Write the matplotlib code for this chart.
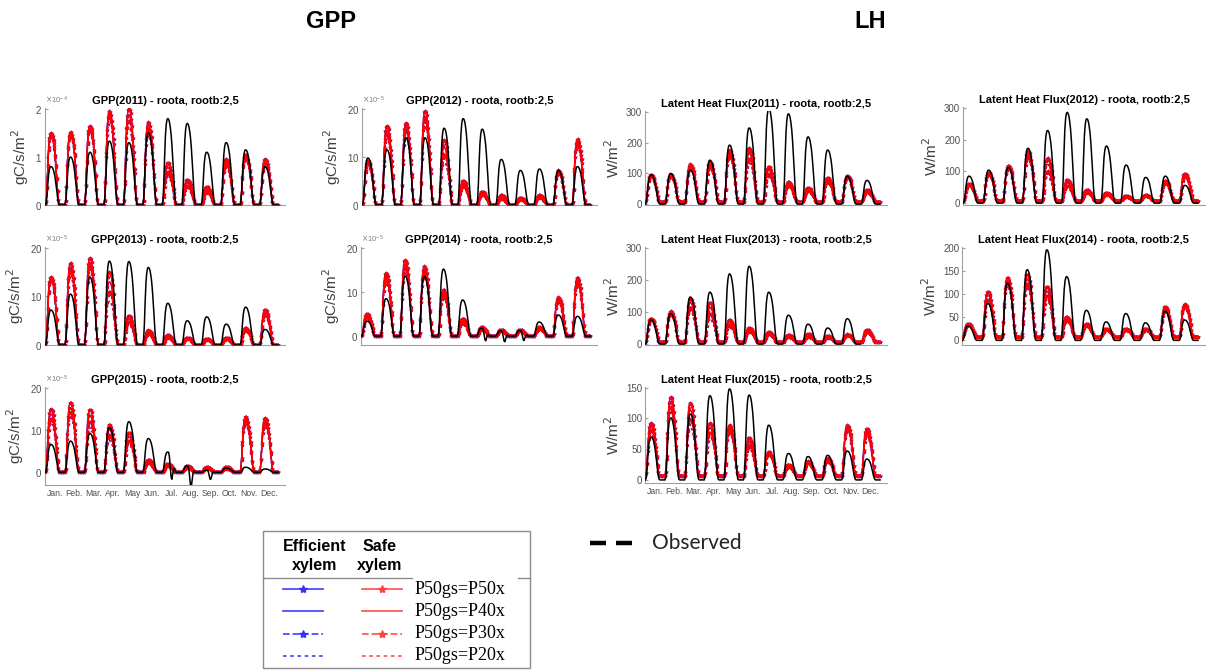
import numpy as np
import matplotlib
matplotlib.use('Agg')
import matplotlib.pyplot as plt
from matplotlib.ticker import ScalarFormatter
from matplotlib.patches import Rectangle

plt.rcParams['font.family'] = ['Liberation Sans', 'DejaVu Sans']

# ---------------- data ----------------
months = ['Jan.', 'Feb.', 'Mar.', 'Apr.', 'May', 'Jun.', 'Jul.', 'Aug.', 'Sep.', 'Oct.', 'Nov.', 'Dec.']
variants = ['P50gs=P50x', 'P50gs=P40x', 'P50gs=P30x', 'P50gs=P20x']

# mean diurnal cycle shape (24 hourly fractions of the monthly peak)
hour_shape = [0, 0.05, 0.25, 0.55, 0.8, 0.93, 0.99, 1.0, 0.99, 0.96, 0.9, 0.82,
              0.7, 0.55, 0.38, 0.2, 0.07, 0.01, 0, 0, 0, 0, 0, 0]
# shape of the negative midday dips seen in observed GPP
dip_shape = [0, 0, 0, 0, 0, 0, 0, 0, 0, 0.2, 0.6, 1.0,
             1.0, 0.6, 0.2, 0, 0, 0, 0, 0, 0, 0, 0, 0]

# GPP monthly peaks, in units of 1e-5 gC/s/m2
gpp2011_obs = [8, 10, 11, 13.3, 13, 15, 18, 17, 11, 13, 11.5, 8]
gpp2011_p50 = [15, 15.2, 16.5, 19.5, 20, 17.2, 8.8, 5.3, 3.8, 9.5, 10.5, 9.5]
gpp2011_p40 = [14.7, 15, 16.2, 18.8, 18.8, 16.5, 7.8, 4.6, 3.2, 9.0, 10.2, 9.2]
gpp2011_p30 = [14.3, 14.6, 15.8, 18.2, 17.5, 15.5, 6.8, 4.0, 2.7, 8.6, 9.8, 8.8]
gpp2011_p20 = [14, 14.2, 15.4, 17.6, 16.2, 14.5, 5.8, 3.5, 2.4, 8.2, 9.5, 8.5]

gpp2012_obs = [9.8, 11.5, 14, 14, 16, 18, 15.8, 9.5, 7.2, 7.5, 7.2, 8]
gpp2012_p50 = [9.2, 16.5, 17, 19.5, 13.5, 5.0, 2.8, 2.0, 1.5, 2.0, 7.2, 13.7]
gpp2012_p40 = [8.9, 15.6, 16.3, 18.5, 12, 4.5, 2.5, 1.6, 1.3, 1.8, 7.0, 13.2]
gpp2012_p30 = [8.6, 14.8, 15.6, 17.5, 10.5, 4.0, 2.2, 1.3, 1.1, 1.6, 6.8, 12.6]
gpp2012_p20 = [8.3, 14.0, 15.0, 16.5, 9.0, 3.5, 2.0, 1.0, 1.0, 1.5, 6.5, 12.0]

gpp2013_obs = [7.2, 10.5, 14, 17.3, 17.2, 16, 8.6, 5, 5.8, 4.3, 7.8, 3.2]
gpp2013_p50 = [14, 16.9, 17.9, 15, 6, 3.0, 2.0, 1.5, 1.3, 1.5, 3.5, 7.2]
gpp2013_p40 = [13.6, 16, 17, 13, 5.3, 2.7, 1.8, 1.4, 1.2, 1.3, 3.3, 6.8]
gpp2013_p30 = [13.3, 15, 16.2, 11, 4.7, 2.3, 1.6, 1.3, 1.1, 1.2, 3.0, 6.4]
gpp2013_p20 = [13, 14, 15.5, 9, 4, 2.0, 1.5, 1.2, 1.0, 1.0, 2.8, 6.0]

gpp2014_obs = [3.4, 8.5, 13.6, 13.5, 15.2, 8.2, 1.8, 1.2, 1.3, 3.2, 4.8, 4.5]
gpp2014_dip = [0, 0, 0, 0, 0, 0, -2.3, -2.1, -1.9, 0, 0, 0]
gpp2014_p50 = [5, 14.2, 17.2, 15.8, 10.5, 4, 2, 1.5, 1.5, 2, 8.8, 13.2]
gpp2014_p40 = [4.7, 13.5, 16.3, 15, 9.8, 3.5, 1.7, 1.3, 1.3, 1.8, 8.4, 12.6]
gpp2014_p30 = [4.3, 12.7, 15.4, 14.2, 9.1, 3, 1.5, 1.1, 1.1, 1.6, 8, 12]
gpp2014_p20 = [4, 12, 14.5, 13.5, 8.5, 2.5, 1.2, 1.0, 1.0, 1.5, 7.5, 11.5]

gpp2015_obs = [6.6, 7.4, 9.2, 10.6, 12, 8, 4.8, 1.5, 0.5, 1.0, 1.2, 0.8]
gpp2015_dip = [0, 0, 0, 0, 0, 0, -5, -4.4, -2.0, 0, 0, 0]
gpp2015_p50 = [15, 16.5, 14.8, 11.2, 9.4, 3, 2, 1.5, 1.2, 1.3, 13.2, 12.8]
gpp2015_p40 = [13.8, 15.3, 13.4, 10, 8.4, 2.7, 1.8, 1.2, 1.1, 1.1, 12.5, 12.2]
gpp2015_p30 = [12.6, 14.2, 12, 8.8, 7.5, 2.3, 1.5, 1.0, 0.9, 0.9, 11.8, 11.6]
gpp2015_p20 = [11.5, 13, 10.5, 7.5, 6.5, 2, 1.3, 0.8, 0.8, 0.8, 11, 11]

# Latent heat flux monthly peaks, W/m2
lh2011_obs = [95, 100, 111, 143, 192, 248, 310, 294, 219, 176, 90, 77]
lh2011_p50 = [95, 95, 130, 136, 176, 181, 122, 71, 52, 86, 92, 46]
lh2011_p40 = [92, 92, 123, 129, 166, 165, 110, 66, 48, 80, 90, 43]
lh2011_p30 = [90, 90, 117, 122, 158, 148, 98, 60, 44, 72, 87, 39]
lh2011_p20 = [88, 88, 110, 115, 150, 133, 87, 55, 40, 65, 85, 35]

lh2012_obs = [85, 104, 112, 173, 229, 286, 266, 180, 120, 81, 85, 56]
lh2012_p50 = [61, 95, 117, 164, 141, 72, 42, 32, 22, 25, 70, 93]
lh2012_p40 = [59, 93, 114, 156, 122, 64, 38, 30, 21, 23, 67, 90]
lh2012_p30 = [57, 91, 111, 148, 100, 55, 34, 27, 19, 22, 63, 86]
lh2012_p20 = [55, 89, 108, 140, 81, 45, 30, 25, 18, 20, 60, 80]

lh2013_obs = [75, 95, 147, 162, 219, 243, 162, 90, 62, 50, 79, np.nan]
lh2013_p50 = [79, 102, 142, 128, 76, 50, 37, 28, 31, 25, 30, 45]
lh2013_p40 = [78, 98, 128, 113, 68, 46, 34, 25, 27, 23, 28, 42]
lh2013_p30 = [77, 94, 114, 95, 59, 40, 31, 22, 23, 20, 27, 38]
lh2013_p20 = [76, 90, 100, 76, 50, 35, 28, 20, 20, 18, 25, 35]

lh2014_obs = [31, 80, 124, 153, 196, 138, 65, 40, 58, 38, 63, 44]
lh2014_p50 = [36, 105, 136, 142, 116, 51, 36, 25, 25, 25, 73, 78]
lh2014_p40 = [35, 98, 131, 132, 106, 47, 34, 23, 23, 23, 69, 76]
lh2014_p30 = [34, 88, 125, 122, 96, 43, 32, 22, 22, 22, 65, 73]
lh2014_p20 = [33, 80, 115, 113, 87, 40, 30, 20, 20, 20, 60, 70]

lh2015_obs = [70, 101, 107, 137, 148, 138, 89, 43, 38, 40, 47, 34]
lh2015_p50 = [92, 134, 125, 92, 89, 68, 45, 25, 30, 35, 89, 83]
lh2015_p40 = [87, 127, 113, 85, 84, 62, 43, 23, 28, 32, 86, 80]
lh2015_p30 = [81, 118, 98, 77, 79, 56, 42, 21, 27, 30, 83, 76]
lh2015_p20 = [75, 110, 85, 70, 75, 50, 40, 20, 25, 28, 80, 70]

# night-time baseline of modelled LH per panel (W/m2)
lh_night = {'2011': 8, '2012': 8, '2013': 6, '2014': 8, '2015': 7}

# ---------------- helpers ----------------
W, H = 1210, 671
fig = plt.figure(figsize=(W / 100, H / 100), dpi=100)

ov = fig.add_axes([0, 0, 1, 1])
ov.set_xlim(0, W)
ov.set_ylim(H, 0)
ov.axis('off')


def px_axes(l, t, r, b):
    return fig.add_axes([l / W, 1 - b / H, (r - l) / W, (b - t) / H])


def build(peaks, base=0.0, dip=None, scale=1.0):
    shape = np.array(hour_shape, dtype=float)
    dshape = np.array(dip_shape, dtype=float)
    out = []
    for m, p in enumerate(peaks):
        v = base + (p - base) * shape
        if dip is not None:
            v = v + dip[m] * dshape
        out.append(v)
    return np.concatenate(out) * scale


hours = np.arange(12 * 24) + 0.5
styles = [dict(ls='-', marker='*'), dict(ls='-', marker=None),
          dict(ls='--', marker='*'), dict(ls=(0, (2, 2)), marker=None)]


def panel(ax, title, obs, mods, ylim, yticks, ylabel, scale=1.0, base=0.0,
          dip=None, power=None, bottom=False):
    for color in ['#0000ff', '#ff0000']:
        for vals, st in zip(mods, styles):
            y = build(vals, base=base, scale=scale)
            ax.plot(hours, y, color=color, lw=0.9, ls=st['ls'], marker=st['marker'],
                    ms=2.6, mew=0.4, zorder=2 if color == '#0000ff' else 3)
    ax.plot(hours, build(obs, 0.0, dip, scale), color='black', lw=1.1, zorder=4)
    ax.set_xlim(0, 296)
    ax.set_ylim(*ylim)
    ax.set_yticks(yticks)
    for s in ['top', 'right']:
        ax.spines[s].set_visible(False)
    for s in ['left', 'bottom']:
        ax.spines[s].set_color('#a0a0a0')
        ax.spines[s].set_linewidth(0.8)
    ax.tick_params(axis='y', direction='in', length=2, labelsize=7,
                   colors='#a0a0a0', labelcolor='#505050', pad=2)
    if power is not None:
        fmt = ScalarFormatter(useMathText=True)
        fmt.set_powerlimits((power, power))
        ax.yaxis.set_major_formatter(fmt)
        ax.yaxis.get_offset_text().set_fontsize(5.5)
        ax.yaxis.get_offset_text().set_color('#808080')
    if bottom:
        ax.set_xticks(12 + 24 * np.arange(12))
        ax.set_xticklabels(months)
        ax.tick_params(axis='x', length=0, labelsize=6.2, labelcolor='#505050', pad=3)
    else:
        ax.set_xticks([])
    ax.set_title(title, fontsize=8, fontweight='bold', pad=3)
    ax.set_ylabel(ylabel, fontsize=11, color='#404040', labelpad=3)


gl = 'gC/s/m$^2$'
ll = 'W/m$^2$'
e5 = 1e-5

a = px_axes(45, 108, 285, 205)
panel(a, 'GPP(2011) - roota, rootb:2,5', gpp2011_obs,
      [gpp2011_p50, gpp2011_p40, gpp2011_p30, gpp2011_p20],
      (0, 2.02e-4), [0, 1e-4, 2e-4], gl, scale=e5, power=-4)

a = px_axes(362, 108, 597, 205)
panel(a, 'GPP(2012) - roota, rootb:2,5', gpp2012_obs,
      [gpp2012_p50, gpp2012_p40, gpp2012_p30, gpp2012_p20],
      (0, 20.2e-5), [0, 10e-5, 20e-5], gl, scale=e5, power=-5)

a = px_axes(45, 247, 285, 345)
panel(a, 'GPP(2013) - roota, rootb:2,5', gpp2013_obs,
      [gpp2013_p50, gpp2013_p40, gpp2013_p30, gpp2013_p20],
      (0, 20.2e-5), [0, 10e-5, 20e-5], gl, scale=e5, power=-5)

a = px_axes(361, 247, 597, 345)
panel(a, 'GPP(2014) - roota, rootb:2,5', gpp2014_obs,
      [gpp2014_p50, gpp2014_p40, gpp2014_p30, gpp2014_p20],
      (-2e-5, 20.2e-5), [0, 10e-5, 20e-5], gl, scale=e5, dip=gpp2014_dip, power=-5)

a = px_axes(45, 387, 285, 485)
panel(a, 'GPP(2015) - roota, rootb:2,5', gpp2015_obs,
      [gpp2015_p50, gpp2015_p40, gpp2015_p30, gpp2015_p20],
      (-3e-5, 20.2e-5), [0, 10e-5, 20e-5], gl, scale=e5, dip=gpp2015_dip, power=-5,
      bottom=True)

a = px_axes(645, 111, 887, 205)
panel(a, 'Latent Heat Flux(2011) - roota, rootb:2,5', lh2011_obs,
      [lh2011_p50, lh2011_p40, lh2011_p30, lh2011_p20],
      (-3, 303), [0, 100, 200, 300], ll, base=lh_night['2011'])

a = px_axes(963, 107, 1205, 205)
panel(a, 'Latent Heat Flux(2012) - roota, rootb:2,5', lh2012_obs,
      [lh2012_p50, lh2012_p40, lh2012_p30, lh2012_p20],
      (-6, 303), [0, 100, 200, 300], ll, base=lh_night['2012'])

a = px_axes(645, 247, 887, 345)
panel(a, 'Latent Heat Flux(2013) - roota, rootb:2,5', lh2013_obs,
      [lh2013_p50, lh2013_p40, lh2013_p30, lh2013_p20],
      (-3, 303), [0, 100, 200, 300], ll, base=lh_night['2013'])

a = px_axes(962, 247, 1205, 345)
panel(a, 'Latent Heat Flux(2014) - roota, rootb:2,5', lh2014_obs,
      [lh2014_p50, lh2014_p40, lh2014_p30, lh2014_p20],
      (-10, 202), [0, 50, 100, 150, 200], ll, base=lh_night['2014'])

a = px_axes(645, 387, 887, 483)
panel(a, 'Latent Heat Flux(2015) - roota, rootb:2,5', lh2015_obs,
      [lh2015_p50, lh2015_p40, lh2015_p30, lh2015_p20],
      (-5, 151), [0, 50, 100, 150], ll, base=lh_night['2015'], bottom=True)

# ---------------- big headings ----------------
ov.text(331, 22, 'GPP', fontsize=17, fontweight='bold', ha='center', va='center')
ov.text(870, 22, 'LH', fontsize=17, fontweight='bold', ha='center', va='center')

# ---------------- custom legend ----------------
ov.add_patch(Rectangle((263, 531), 267, 137, fill=False, edgecolor='#8a8a8a', lw=1))
ov.plot([263, 412], [578, 578], color='#8a8a8a', lw=1)
ov.plot([518, 530], [578, 578], color='#8a8a8a', lw=1)
ov.text(315, 556, 'Efficient\nxylem', fontsize=11.5, fontweight='bold', ha='center',
        va='center', linespacing=1.35)
ov.text(380, 556, 'Safe\nxylem', fontsize=11.5, fontweight='bold', ha='center',
        va='center', linespacing=1.35)
row_y = [589, 611, 634, 656]
for yy, st, lab in zip(row_y, styles, variants):
    for x0, col in [(283, '#3030ff'), (362, '#ff4040')]:
        ov.plot([x0, x0 + 40], [yy, yy], color=col, lw=1.3, ls=st['ls'], alpha=0.85)
        if st['marker']:
            ov.plot([x0 + 20], [yy], color=col, marker='*', ms=6, alpha=0.95)
    ov.text(415, yy, lab, fontsize=13, family=['Liberation Serif', 'DejaVu Serif'],
            ha='left', va='center')

ov.plot([590, 632], [543, 543], color='black', lw=3.2, ls=(0, (3.6, 2.25)))
ov.text(652, 543, 'Observed', fontsize=15, family=['Lato', 'DejaVu Sans'],
        ha='left', va='center', color='#222222')

fig.savefig('out.png', dpi=100)
